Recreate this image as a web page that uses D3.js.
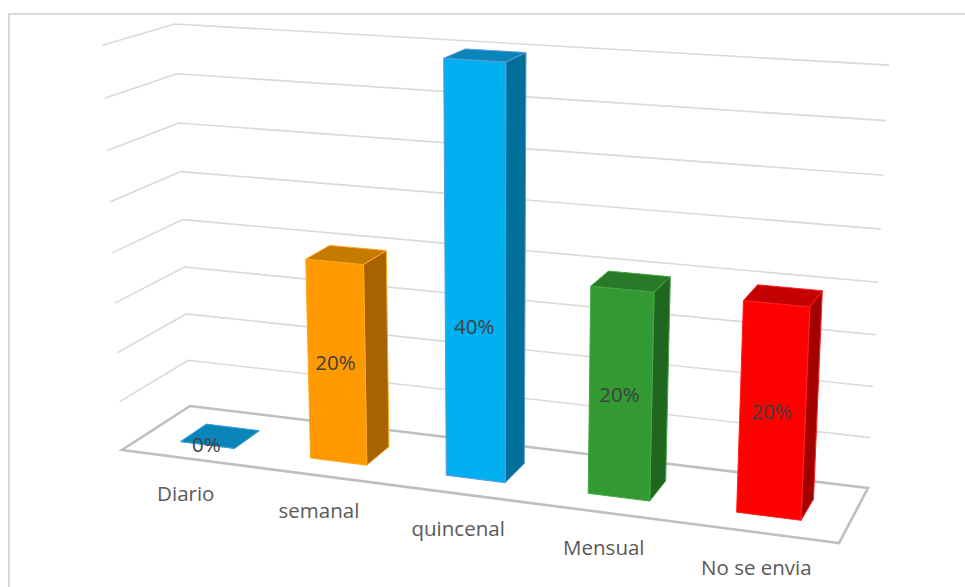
<!DOCTYPE html>
<html>
<head>
<meta charset="utf-8">
<script src="https://cdn.jsdelivr.net/npm/d3@7"></script>
<style>
html,body{margin:0;padding:0;background:#fff;overflow:hidden}
svg{display:block}
text{font-family:"Open Sans",sans-serif}
</style>
</head>
<body>
<svg id="chart" width="965" height="587"></svg>
<script>
// Frequency of sending, one share per category
const categories = ["Diario", "semanal", "quincenal", "Mensual", "No se envia"];
const shares = [0, 20, 40, 20, 20];
const shareLabels = ["0%", "20%", "40%", "20%", "20%"];
const axisTicks = [0, 5, 10, 15, 20, 25, 30, 35, 40];

// Height along each bar (in axis units) where its label sits
const labelLevels = [0, 10, 15, 10, 10];

// Face colours per bar: front, side, top, edge
const frontColors = ["#0a84b9", "#ff9900", "#00b0f0", "#339933", "#ff0000"];
const sideColors  = ["#00709a", "#a66400", "#00709a", "#1f661f", "#a30000"];
const topColors   = ["#0a84b9", "#c77a00", "#0a84b9", "#287a28", "#c40000"];
const edgeColors  = ["#3f9fd6", "#ffa820", "#5b9bd5", "#45a845", "#ff2020"];

// Box corners on screen: floor, and the three visible corners of the upper plane
const floorCorners = [[122, 450], [839, 543], [868, 488], [190, 406]];
const upperCorners = [{ u: 0, v: 0, at: [101, 44] }, { u: 0, v: 1, at: [176, 28] }, { u: 1, v: 1, at: [889, 62] }];

// Homography columns taking the unit floor square to the screen quadrilateral
function squareToQuad(q) {
  const [[x0, y0], [x1, y1], [x2, y2], [x3, y3]] = q;
  const dx1 = x1 - x2, dx2 = x3 - x2, sx = x0 - x1 + x2 - x3;
  const dy1 = y1 - y2, dy2 = y3 - y2, sy = y0 - y1 + y2 - y3;
  const det = dx1 * dy2 - dx2 * dy1;
  const g = (sx * dy2 - dx2 * sy) / det;
  const h = (dx1 * sy - sx * dy1) / det;
  return {
    cu: [x1 - x0 + g * x1, y1 - y0 + g * y1, g],
    cv: [x3 - x0 + h * x3, y3 - y0 + h * y3, h],
    c0: [x0, y0, 1]
  };
}
const { cu, cv, c0 } = squareToQuad(floorCorners);
const homogeneous = (u, v, t, ch) => [0, 1, 2].map(k => cu[k] * u + cv[k] * v + c0[k] + (ch ? ch[k] * t : 0));

// Vertical column of the camera matrix: least-squares fit to the upper corners
function fitVertical() {
  const rows = [];
  upperCorners.forEach(({ u, v, at: [X, Y] }) => {
    const [bx, by, bw] = homogeneous(u, v);
    rows.push([1, 0, -X, X * bw - bx]);
    rows.push([0, 1, -Y, Y * bw - by]);
  });
  const m = [0, 1, 2].map(i => [0, 1, 2, 3].map(j => d3.sum(rows, r => r[i] * r[j])));
  for (let i = 0; i < 3; i++) {
    const piv = i + d3.maxIndex(m.slice(i), r => Math.abs(r[i]));
    [m[i], m[piv]] = [m[piv], m[i]];
    for (let k = 0; k < 3; k++) {
      if (k === i) continue;
      const f = m[k][i] / m[i][i];
      for (let j = i; j < 4; j++) m[k][j] -= f * m[i][j];
    }
  }
  return m.map((r, i) => r[3] / r[i]);
}
const cVertical = fitVertical();

const xBand = d3.scaleBand().domain(categories).range([0, 1])
  .paddingInner(0.58).paddingOuter(0.3);
const yLevel = d3.scaleLinear().domain([0, 40]).range([0, 1]);
const depth = d3.scaleLinear().domain([0, 1]).range([0.29, 0.68]);

function project(u, v, value) {
  const [x, y, w] = homogeneous(u, v, yLevel(value), cVertical);
  return [x / w, y / w];
}

const svg = d3.select("#chart");
const line = d3.line();
const closed = d3.line().curve(d3.curveLinearClosed);

// Outer frame of the chart area
svg.append("path")
  .attr("d", line([[9, 587], [9, 14], [965, 14]]))
  .attr("fill", "none").attr("stroke", "#d9d9d9").attr("stroke-width", 2);

// Grid lines across the side wall and back wall
svg.append("g").selectAll("path")
  .data(axisTicks.slice(1))
  .join("path")
  .attr("d", v => line([project(0, 0, v), project(0, 1, v), project(1, 1, v)]))
  .attr("fill", "none").attr("stroke", "#d9d9d9").attr("stroke-width", 1.6);

// Floor outline
svg.append("path")
  .attr("d", closed([[0, 0], [1, 0], [1, 1], [0, 1]].map(c => project(c[0], c[1], 0))))
  .attr("fill", "none").attr("stroke", "#bfbfbf").attr("stroke-width", 2.6)
  .attr("stroke-linejoin", "miter");

// Bars: side, top, then front so the front edges stay crisp
const bars = svg.append("g").selectAll("g")
  .data(categories.map((name, i) => ({ name, i, value: shares[i] })))
  .join("g");

const face = (d, pts) => closed(pts.map(p => project(p[0], p[1], p[2])));
const edges = d => {
  const u0 = xBand(d.name), u1 = u0 + xBand.bandwidth();
  return { u0, u1, v0: depth(0), v1: depth(1) };
};

bars.append("path")
  .attr("d", d => {
    const { u1, v0, v1 } = edges(d);
    return face(d, [[u1, v0, 0], [u1, v1, 0], [u1, v1, d.value], [u1, v0, d.value]]);
  })
  .attr("fill", d => sideColors[d.i]).attr("stroke", d => edgeColors[d.i]).attr("stroke-width", 1);

bars.append("path")
  .attr("d", d => {
    const { u0, u1, v0 } = edges(d);
    return face(d, [[u0, v0, 0], [u1, v0, 0], [u1, v0, d.value], [u0, v0, d.value]]);
  })
  .attr("fill", d => frontColors[d.i]).attr("stroke", d => edgeColors[d.i]).attr("stroke-width", 1);

bars.append("path")
  .attr("d", d => {
    const { u0, u1, v0, v1 } = edges(d);
    return face(d, [[u0, v0, d.value], [u1, v0, d.value], [u1, v1, d.value], [u0, v1, d.value]]);
  })
  .attr("fill", d => topColors[d.i]).attr("stroke", d => edgeColors[d.i]).attr("stroke-width", 1);

// Share labels on the bars
svg.append("g").selectAll("text")
  .data(categories)
  .join("text")
  .attr("transform", (name, i) => {
    const p = project(xBand(name) + xBand.bandwidth() / 2, depth(0), labelLevels[i]);
    return `translate(${p[0] - 1},${p[1]})`;
  })
  .attr("text-anchor", "middle").attr("dy", "0.35em")
  .attr("font-size", 20.5).attr("fill", "#404040")
  .text((name, i) => shareLabels[i]);

// Category labels in front of the floor
svg.append("g").selectAll("text")
  .data(categories)
  .join("text")
  .attr("transform", name => {
    const p = project(xBand(name) + xBand.bandwidth() / 2, 0, 0);
    return `translate(${p[0] - 2},${p[1] + 42})`;
  })
  .attr("text-anchor", "middle")
  .attr("font-size", 20.5).attr("fill", "#595959")
  .text(name => name);
</script>
</body>
</html>
